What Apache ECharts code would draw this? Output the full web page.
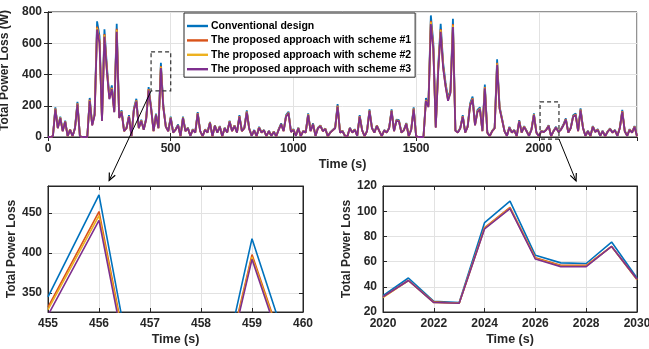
<!DOCTYPE html>
<html><head><meta charset="utf-8">
<script src="https://cdn.jsdelivr.net/npm/echarts@6/dist/echarts.min.js"></script>
<style>html,body{margin:0;padding:0;background:#fff}#c{width:649px;height:349px}</style>
</head><body><div id="c"></div><script>
const seriesNames = ['Conventional design','The proposed approach with scheme #1','The proposed approach with scheme #2','The proposed approach with scheme #3'];
const colors = ['#0072BD','#D95319','#EDB120','#7E2F8E'];

// main panel: one sample every 10 s from 0 s
const mainStart = 0, mainStep = 10;
const mainConv = [
0,0,5,190,60,130,40,105,5,50,
5,60,225,5,0,0,0,250,80,150,
740,645,110,690,450,260,330,170,725,130,
170,40,60,140,5,185,245,60,110,50,
120,320,195,40,150,60,475,200,70,40,
130,30,50,80,5,130,40,60,8,50,
30,160,40,5,50,30,97,5,75,30,
70,5,60,30,105,40,75,30,140,40,
60,170,55,8,45,5,65,30,45,5,
40,8,35,5,50,87,40,140,162,35,
50,8,60,5,40,30,151,40,87,8,
60,75,40,55,5,30,45,60,210,30,
40,8,5,60,30,50,8,140,45,5,
40,177,60,30,75,40,5,45,30,60,
177,40,112,108,30,45,90,5,50,190,
5,0,0,0,249,205,778,605,65,454,
724,475,346,250,303,757,43,30,60,140,
30,70,216,259,80,173,190,40,335,30,
5,40,60,497,195,119,40,8,65,30,
45,5,108,30,70,40,8,50,151,30,
5,40,33,47,75,5,40,65,35,50,
80,119,30,60,140,151,40,184,60,8,
40,5,70,35,50,8,40,5,35,55,
30,45,8,60,173,40,8,50,30,70,
5];
const mainS1 = [
0,0,5,182,57,124,38,100,5,48,
5,57,215,5,0,0,0,239,76,143,
707,616,105,659,430,248,315,162,692,124,
162,38,57,134,5,177,234,57,105,48,
115,306,186,38,143,57,454,191,67,38,
124,29,48,76,5,124,38,57,8,48,
29,153,38,5,48,29,93,5,72,29,
67,5,57,29,100,38,72,29,134,38,
57,162,53,8,43,5,62,29,43,5,
38,8,33,5,48,83,38,134,155,33,
48,8,57,5,38,29,144,38,83,8,
57,72,38,53,5,29,43,57,201,29,
38,8,5,57,29,48,8,134,43,5,
38,169,57,29,72,38,5,43,29,57,
169,38,107,103,29,43,86,5,48,182,
5,0,0,0,238,196,743,578,62,434,
691,454,330,239,289,723,41,29,57,134,
29,67,206,247,76,165,182,38,320,29,
5,38,57,475,186,114,38,8,62,29,
43,5,103,29,67,38,8,48,144,29,
5,38,32,46,72,5,38,62,33,48,
76,114,29,57,134,144,38,176,57,8,
38,5,67,33,48,8,38,5,33,53,
29,43,8,57,165,38,8,48,29,67,
5];
const mainS2 = [
0,0,5,180,57,123,38,99,5,47,
5,57,213,5,0,0,0,236,76,142,
699,609,104,652,425,246,312,161,685,123,
161,38,57,132,5,175,232,57,104,47,
113,302,184,38,142,57,449,189,66,38,
123,28,47,76,5,123,38,57,8,47,
28,151,38,5,47,28,92,5,71,28,
66,5,57,28,99,38,71,28,132,38,
57,161,52,8,43,5,61,28,43,5,
38,8,33,5,47,82,38,132,153,33,
47,8,57,5,38,28,143,38,82,8,
57,71,38,52,5,28,43,57,198,28,
38,8,5,57,28,47,8,132,43,5,
38,167,57,28,71,38,5,43,28,57,
167,38,106,102,28,43,85,5,47,180,
5,0,0,0,235,194,735,572,61,429,
684,449,327,236,286,715,41,28,57,132,
28,66,204,245,76,163,180,38,317,28,
5,38,57,470,184,112,38,8,61,28,
43,5,102,28,66,38,8,47,143,28,
5,38,32,46,71,5,38,61,33,47,
76,112,28,57,132,143,38,174,57,8,
38,5,66,33,47,8,38,5,33,52,
28,43,8,57,163,38,8,47,28,66,
5];
const mainS3 = [
0,0,4,177,56,121,37,98,5,46,
5,56,209,4,0,0,0,232,74,139,
688,600,102,642,419,242,307,158,674,121,
158,37,56,130,5,172,228,56,102,46,
112,298,181,37,140,56,442,186,65,37,
121,28,46,74,5,121,37,56,7,46,
28,149,37,5,46,28,90,5,70,28,
65,5,56,28,98,37,70,28,130,37,
56,158,51,7,42,5,60,28,42,5,
37,7,32,5,46,81,37,130,151,32,
46,7,56,5,37,28,140,37,81,7,
56,70,37,51,5,28,42,56,195,28,
37,7,5,56,28,46,7,130,42,5,
37,165,56,28,70,37,5,42,28,56,
165,37,104,100,28,42,84,5,46,177,
4,0,0,0,232,191,723,563,60,422,
673,442,322,232,282,704,40,28,56,130,
28,65,201,241,74,161,177,37,312,28,
5,37,56,462,181,111,37,7,60,28,
42,5,100,28,65,37,7,46,140,28,
5,37,31,45,70,5,37,60,32,46,
74,111,28,56,130,140,37,171,56,7,
37,5,65,32,46,7,37,5,32,51,
28,42,7,56,161,37,7,46,28,65,
5];

// zoom A (455-460 s)
const zoomATime = [455,456,457,458,459,460];
const zoomAConv = [345,473,130,130,418,222];
const zoomAS1   = [332,452,125,125,398,210];
const zoomAS2   = [329,447,124,124,395,208];
const zoomAS3   = [322,441,115,120,392,203];

// zoom B (2020-2030 s)
const zoomBTime = [2020,2021,2022,2023,2024,2025,2026,2027,2028,2029,2030];
const zoomBConv = [33,47,28.5,27.5,91,108,65,59,58.5,75.5,47];
const zoomBS1   = [32,45,28,27,87,103,63,57,57,72,46];
const zoomBS2   = [31.5,45,27.5,27,86.5,102.5,62.5,56.5,56.5,72,45.5];
const zoomBS3   = [32,45,27.5,27,86,102,62,56,56,72,46];

const FONT = 'Liberation Sans, Arial, Helvetica, sans-serif';
const TXT = '#262626';
const mainTime = mainConv.map((_, i) => mainStart + i * mainStep);
const pairs = (t, v) => t.map((x, i) => [x, v[i]]);
const plain = v => String(v);

function xAxis(grid, min, max, interval, extraLabel) {
  return {
    type: 'value', gridIndex: grid, min, max, interval,
    name: 'Time (s)', nameLocation: 'middle', nameGap: 21,
    nameTextStyle: {fontWeight: 'bold', fontSize: 12.5, color: TXT, fontFamily: FONT},
    axisLine: {show: true, onZero: false, lineStyle: {color: TXT}},
    axisTick: {show: true, inside: true, length: 4, lineStyle: {color: TXT}},
    axisLabel: Object.assign({fontWeight: 'bold', fontSize: 12, color: TXT, fontFamily: FONT, margin: 6, formatter: plain}, extraLabel || {}),
    splitLine: {show: true, lineStyle: {color: '#e2e2e2'}}
  };
}
function yAxis(grid, min, max, interval, name, gap, extra) {
  const ax = {
    type: 'value', gridIndex: grid, min, max,
    name, nameLocation: 'middle', nameGap: gap, nameRotate: 90,
    nameTextStyle: {fontWeight: 'bold', fontSize: 12, color: TXT, fontFamily: FONT},
    axisLine: {show: true, lineStyle: {color: TXT}},
    axisTick: {show: true, inside: true, length: 4, lineStyle: {color: TXT}},
    axisLabel: {fontWeight: 'bold', fontSize: 12, color: TXT, fontFamily: FONT, margin: 6, formatter: plain},
    splitLine: {show: true, lineStyle: {color: '#e2e2e2'}}
  };
  if (interval) ax.interval = interval;
  if (extra) {
    Object.assign(ax.axisLabel, extra.label || {});
    if (extra.splitNumber) ax.splitNumber = extra.splitNumber;
    if (extra.namePad) ax.nameTextStyle.padding = extra.namePad;
  }
  return ax;
}
function mirrorX(grid, min, max, interval) {
  return {type: 'value', gridIndex: grid, position: 'top', min, max, interval,
    axisLine: {show: true, lineStyle: {color: TXT}}, axisTick: {show: true, inside: true, length: 4, lineStyle: {color: TXT}},
    axisLabel: {show: false}, splitLine: {show: false}};
}
function mirrorY(grid, min, max, interval, splitNumber) {
  const ax = {type: 'value', gridIndex: grid, position: 'right', min, max,
    axisLine: {show: true, lineStyle: {color: TXT}}, axisTick: {show: true, inside: true, length: 4, lineStyle: {color: TXT}},
    axisLabel: {show: false}, splitLine: {show: false}};
  if (interval) ax.interval = interval;
  if (splitNumber) ax.splitNumber = splitNumber;
  return ax;
}

const groups = [
  {grid: 0, t: mainTime, vals: [mainConv, mainS1, mainS2, mainS3], w: 1.8},
  {grid: 1, t: zoomATime, vals: [zoomAConv, zoomAS1, zoomAS2, zoomAS3], w: 1.6},
  {grid: 2, t: zoomBTime, vals: [zoomBConv, zoomBS1, zoomBS2, zoomBS3], w: 1.6}
];
const series = [];
groups.forEach(g => {
  g.vals.forEach((v, k) => {
    series.push({
      type: 'line', name: seriesNames[k], xAxisIndex: g.grid * 2, yAxisIndex: g.grid * 2,
      data: pairs(g.t, v), showSymbol: false, symbol: 'none',
      lineStyle: {color: colors[k], width: g.w}, itemStyle: {color: colors[k]},
      clip: true, silent: true
    });
  });
});

const gridBase = {show: true, borderColor: TXT, borderWidth: 1, backgroundColor: 'transparent', containLabel: false, outerBoundsMode: 'none'};
const chart = echarts.init(document.getElementById('c'), null, {renderer: 'canvas'});
chart.setOption({
  animation: false,
  backgroundColor: '#fff',
  color: colors,
  grid: [
    Object.assign({left: 48, top: 12, width: 589, height: 125}, gridBase),
    Object.assign({left: 48, top: 186, width: 255, height: 126}, gridBase),
    Object.assign({left: 383, top: 186, width: 254, height: 126}, gridBase)
  ],
  xAxis: [
    xAxis(0, 0, 2400, 500, {showMaxLabel: false}), mirrorX(0, 0, 2400, 500),
    xAxis(1, 455, 460, 1), mirrorX(1, 455, 460, 1),
    xAxis(2, 2020, 2030, 2), mirrorX(2, 2020, 2030, 2)
  ],
  yAxis: [
    yAxis(0, 0, 800, 200, 'Total Power Loss (W)', 25, {namePad: [0, 0, 0, 8]}), mirrorY(0, 0, 800, 200),
    yAxis(1, 326, 484, null, 'Total Power Loss', 28, {splitNumber: 3, label: {showMinLabel: false, showMaxLabel: false}}), mirrorY(1, 326, 484, null, 3),
    yAxis(2, 20, 120, 20, 'Total Power Loss', 28), mirrorY(2, 20, 120, 20)
  ],
  legend: {
    orient: 'vertical', left: 184, top: 13,
    data: seriesNames,
    backgroundColor: '#fff', borderColor: TXT, borderWidth: 1, borderRadius: 0,
    padding: [7, 4, 2, 3], itemGap: 2.4, itemWidth: 21, itemHeight: 2.4,
    icon: 'rect',
    textStyle: {fontWeight: 'bold', fontSize: 10.5, lineHeight: 12, color: '#000', fontFamily: FONT, padding: [0, 0, 0, -2]},
    selectedMode: false
  },
  series
});

function px(grid, p) { return chart.convertToPixel({xAxisIndex: grid * 2, yAxisIndex: grid * 2}, p); }
function arrow(a, b) {
  const ang = Math.atan2(b[1] - a[1], b[0] - a[0]);
  const L = 8, th = 0.42;
  const p1 = [b[0] - L * Math.cos(ang - th), b[1] - L * Math.sin(ang - th)];
  const p2 = [b[0] - L * Math.cos(ang + th), b[1] - L * Math.sin(ang + th)];
  return [
    {type: 'line', shape: {x1: a[0], y1: a[1], x2: b[0], y2: b[1]}, style: {stroke: '#000', lineWidth: 1}, z: 100},
    {type: 'polyline', shape: {points: [p1, b, p2]}, style: {stroke: '#000', lineWidth: 1.2, fill: null}, z: 100}
  ];
}
function box(grid, t0, t1, v0, v1) {
  const a = px(grid, [t0, v1]), b = px(grid, [t1, v0]);
  return {type: 'rect', shape: {x: a[0], y: a[1], width: b[0] - a[0], height: b[1] - a[1]},
    style: {stroke: '#333', lineWidth: 1.2, lineDash: [4, 3], fill: null}, z: 100};
}
const b1 = [420, 500, 295, 545], b2 = [2005, 2082, -13, 225];
const g = [
  box(0, b1[0], b1[1], b1[2], b1[3]),
  box(0, b2[0], b2[1], b2[2], b2[3]),
  ...arrow(px(0, [b1[0], b1[2]]), px(1, [456.2, 491])),
  ...arrow(px(0, [b2[1], b2[2]]), px(2, [2027.6, 124]))
];
chart.setOption({graphic: g});
</script></body></html>
